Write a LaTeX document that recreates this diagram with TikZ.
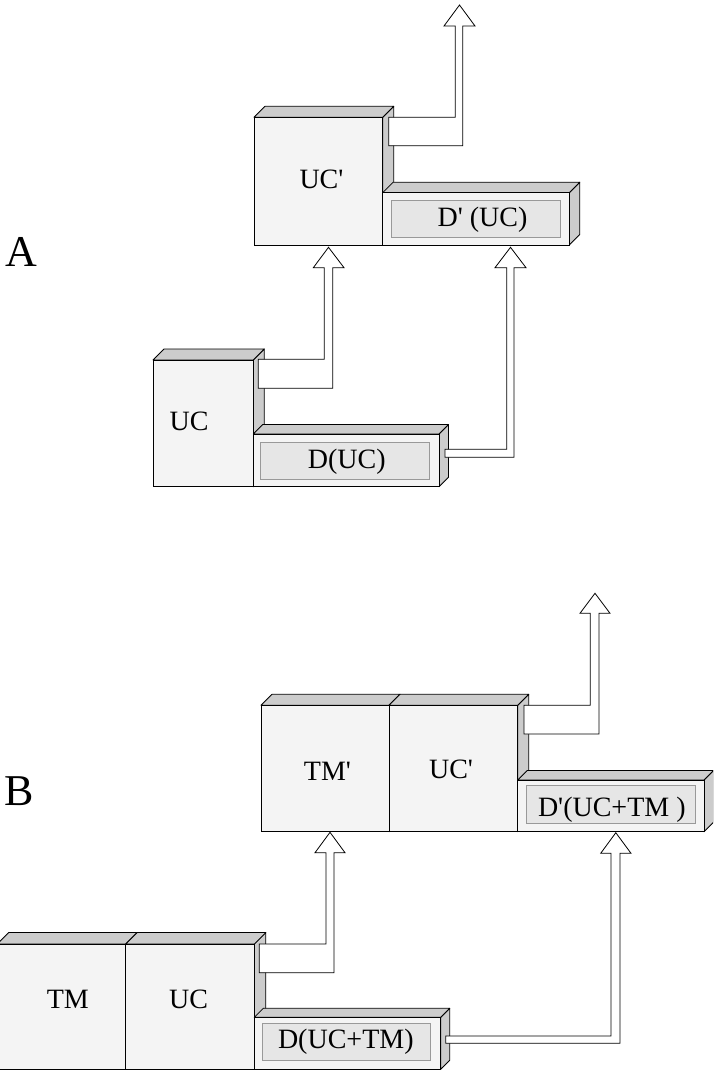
\documentclass[tikz,border=0pt]{standalone}
\usepackage{fontspec}
\setmainfont{Liberation Serif}
\definecolor{frontgray}{HTML}{F4F4F4}
\definecolor{sidegray}{HTML}{CCCCCC}
\definecolor{innerfill}{HTML}{E6E6E6}
\definecolor{innerline}{HTML}{999999}
\tikzset{
  frontface/.style={draw=black, fill=frontgray, line width=0.8pt, inner sep=0pt, outer sep=0pt, rectangle},
  sideface/.style={draw=black, fill=sidegray, line width=0.8pt, line join=round},
  innerbox/.style={draw=innerline, fill=innerfill, line width=1pt, inner sep=0pt, outer sep=0pt, rectangle},
  lbl/.style={font=\fontsize{28}{30}\selectfont, anchor=base, inner sep=0pt},
  biglbl/.style={font=\fontsize{44}{46}\selectfont, anchor=base, inner sep=0pt},
  flow/.style={draw=black, fill=white, line width=0.8pt, line join=miter}
}
% name, x1, y1, x2, y2, depth
\newcommand{\drawblock}[6]{%
  \pgfmathsetmacro\bw{#4-#2}\pgfmathsetmacro\bh{#5-#3}%
  \draw[sideface] (#4,#3) -- (#4+#6,#3-#6) -- (#4+#6,#5-#6) -- (#4,#5) -- cycle;
  \draw[sideface] (#2,#3) -- (#2+#6,#3-#6) -- (#4+#6,#3-#6) -- (#4,#3) -- cycle;
  \node[frontface, anchor=north west, minimum width=\bw pt, minimum height=\bh pt] (#1) at (#2,#3) {};
}
\newcommand{\drawinner}[5]{%
  \pgfmathsetmacro\bw{#4-#2}\pgfmathsetmacro\bh{#5-#3}%
  \node[innerbox, anchor=north west, minimum width=\bw pt, minimum height=\bh pt] (#1) at (#2,#3) {};
}
\begin{document}
\begin{tikzpicture}[x=1pt,y=-1pt]
\useasboundingbox (0,0) rectangle (713,1070);
\clip (0,0) rectangle (713,1070);

% ---------------- A ----------------
\node[biglbl] (labA) at (21.5,266) {A};

\drawblock{ucpA}{254}{117.3}{382.7}{245}{11}
\drawblock{dpA}{382.7}{192.7}{569.3}{245}{10.5}
\drawinner{dpAin}{391.7}{200}{560}{237.3}
\node[lbl] (ucpAt) at (321.5,188.3) {UC\textquotesingle};
\node[lbl] (dpAt) at (482.5,226.7) {D\textquotesingle{} (UC)};

\drawblock{ucA}{153}{360}{253.3}{486.7}{11}
\drawblock{dA}{253.3}{434}{439}{486.7}{9.5}
\drawinner{dAin}{260.7}{442}{429.3}{479.3}
\node[lbl] (ucAt) at (189,430) {UC};
\node[lbl] (dAt) at (346.7,468.3) {D(UC)};

% arrows A
\draw[flow] (258.3,359.3) -- (324.3,359.3) -- (324.3,267.7) -- (313.3,267.7) -- (328.5,247.3) -- (344,267.7) -- (332.7,267.7) -- (332.7,388.3) -- (258.3,388.3) -- cycle;
\draw[flow] (445,449.3) -- (506.7,449.3) -- (506.7,267.7) -- (495,267.7) -- (510.5,247.3) -- (526,267.7) -- (514,267.7) -- (514,457.3) -- (445,457.3) -- cycle;
\draw[flow] (388.7,117.3) -- (455.3,117.3) -- (455.3,26) -- (444,26) -- (459.5,5) -- (475,26) -- (462.7,26) -- (462.7,145.7) -- (388.7,145.7) -- cycle;

% ---------------- B ----------------
\node[biglbl] (labB) at (19,805) {B};

\drawblock{tmpB}{261}{705.3}{389}{831.7}{11}
\drawblock{ucpB}{389}{705.3}{517.7}{831.7}{11}
\drawblock{dpB}{517.7}{780}{704}{831.7}{9.5}
\drawinner{dpBin}{526}{785.7}{695.3}{823.3}
\node[lbl] (tmpBt) at (327.5,780) {TM\textquotesingle};
\node[lbl] (ucpBt) at (451,778.3) {UC\textquotesingle};
\node[lbl] (dpBt) at (611.8,816.7) {D\textquotesingle(UC+TM )};

\drawblock{tmB}{-2.7}{944}{125.7}{1069.3}{11.5}
\drawblock{ucB}{125.7}{944}{254.3}{1069.3}{11.5}
\drawblock{dB}{254.3}{1017.3}{440.7}{1069.3}{9}
\drawinner{dBin}{262.7}{1023.3}{430.7}{1060}
\node[lbl] (tmBt) at (67.8,1008.3) {TM};
\node[lbl] (ucBt) at (188.5,1008.3) {UC};
\node[lbl] (dBt) at (345.8,1048.3) {D(UC+TM)};

% arrows B
\draw[flow] (524,705.3) -- (590.3,705.3) -- (590.3,613.3) -- (580,613.3) -- (595,593.3) -- (610,613.3) -- (599,613.3) -- (599,734) -- (524,734) -- cycle;
\draw[flow] (259.3,944) -- (326,944) -- (326,852.7) -- (315,852.7) -- (330,832.3) -- (345,852.7) -- (334,852.7) -- (334,972.7) -- (259.3,972.7) -- cycle;
\draw[flow] (445.7,1036) -- (611,1036) -- (611,853.3) -- (600.7,853.3) -- (615.8,832.7) -- (631,853.3) -- (620,853.3) -- (620,1043.3) -- (445.7,1043.3) -- cycle;
\end{tikzpicture}
\end{document}
